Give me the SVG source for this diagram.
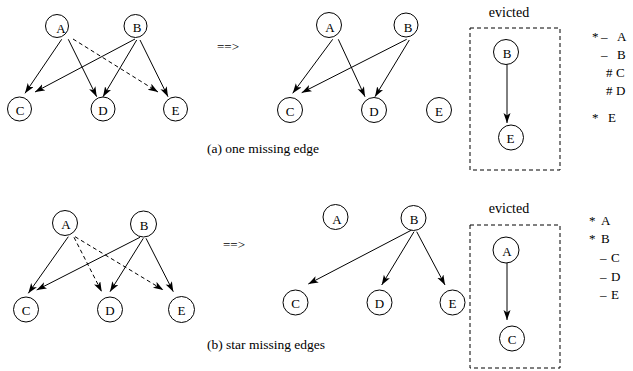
<svg xmlns="http://www.w3.org/2000/svg" width="633" height="371" viewBox="0 0 633 371">
<style>
text{font-size:13px;fill:#000}
.n circle{fill:#fff;stroke:#000;stroke-width:1}
.n text{text-anchor:middle}
.e line{stroke:#000;stroke-width:1;marker-end:url(#ah)}
.e line.d{stroke-dasharray:4,3}
.box{fill:none;stroke:#000;stroke-width:1;stroke-dasharray:4,3}
.cap{font-size:13.5px}
.ev{font-size:14px;text-anchor:middle}
</style>
<defs>
<marker id="ah" markerUnits="userSpaceOnUse" markerWidth="11" markerHeight="8" refX="10" refY="3.5" orient="auto">
<path d="M0,0 L10,3.5 L0,7 L2.5,3.5 Z" fill="#000"/>
</marker>
</defs>

<g id="connectors" class="e">
<line x1="61.7" y1="39.3" x2="25" y2="93.3"/>
<line x1="68.3" y1="39.3" x2="96.7" y2="96.7"/>
<line class="d" x1="73" y1="39" x2="158" y2="92"/>
<line x1="135" y1="39" x2="35" y2="92"/>
<line x1="136.7" y1="40" x2="103" y2="96.7"/>
<line x1="140" y1="40" x2="168" y2="96.7"/>
<line x1="332.7" y1="39.3" x2="292.7" y2="93.3"/>
<line x1="338.3" y1="39.3" x2="365" y2="96.7"/>
<line x1="406.7" y1="39.3" x2="301.7" y2="92.7"/>
<line x1="409.3" y1="40" x2="375" y2="96.7"/>
<line x1="507" y1="64" x2="507" y2="123"/>
<line x1="68.3" y1="236.7" x2="28.3" y2="293.3"/>
<line class="d" x1="74" y1="237.3" x2="101.7" y2="291.7"/>
<line class="d" x1="75" y1="236.7" x2="163.3" y2="290"/>
<line x1="140" y1="237.3" x2="36.7" y2="290"/>
<line x1="143.3" y1="238.3" x2="110" y2="291.7"/>
<line x1="146" y1="238.3" x2="173.3" y2="291.7"/>
<line x1="411.7" y1="230" x2="308.3" y2="284"/>
<line x1="414" y1="231.7" x2="381.7" y2="285"/>
<line x1="416.7" y1="231.7" x2="445" y2="285"/>
<line x1="507" y1="263" x2="507" y2="320"/>
</g>

<g font-family="Liberation Serif, DejaVu Serif, serif">
<g id="tl-A" class="n"><circle cx="57" cy="26" r="11.5"/><text x="61" y="33">A</text></g>
<g id="tl-B" class="n"><circle cx="135.5" cy="26" r="11.5"/><text x="137" y="32">B</text></g>
<g id="tl-C" class="n"><circle cx="19.5" cy="109" r="12"/><text x="20" y="114.5">C</text></g>
<g id="tl-D" class="n"><circle cx="103" cy="109" r="12"/><text x="103" y="114.5">D</text></g>
<g id="tl-E" class="n"><circle cx="175.5" cy="109" r="12"/><text x="175.5" y="114.5">E</text></g>

<text x="217" y="50.5">==&gt;</text>

<g id="tm-A" class="n"><circle cx="329" cy="25" r="12.5"/><text x="330" y="32">A</text></g>
<g id="tm-B" class="n"><circle cx="406" cy="25" r="12"/><text x="408" y="32">B</text></g>
<g id="tm-C" class="n"><circle cx="290" cy="110" r="12.5"/><text x="290" y="115.5">C</text></g>
<g id="tm-D" class="n"><circle cx="374" cy="110" r="12.5"/><text x="374" y="115.5">D</text></g>
<g id="tm-E" class="n"><circle cx="439" cy="110" r="12.5"/><text x="439" y="115.5">E</text></g>

<text class="cap" x="207" y="153">(a) one missing edge</text>

<text class="ev" x="509" y="16.5">evicted</text>
<rect class="box" x="470" y="28" width="90" height="142"/>
<g id="te-B" class="n"><circle cx="506" cy="52" r="12.5"/><text x="507" y="57.5">B</text></g>
<g id="te-E" class="n"><circle cx="511" cy="137.5" r="12.5"/><text x="510.5" y="143">E</text></g>

<text x="592" y="40.7">*</text><text x="601" y="40.7">–</text><text x="617" y="40.7">A</text>
<text x="601" y="59">–</text><text x="617" y="59">B</text>
<text x="606" y="77.3">#</text><text x="616" y="77.3">C</text>
<text x="606" y="95">#</text><text x="616" y="95">D</text>
<text x="592" y="121.7">*</text><text x="608" y="121.7">E</text>

<g id="bl-A" class="n"><circle cx="65" cy="223" r="12.5"/><text x="66" y="229">A</text></g>
<g id="bl-B" class="n"><circle cx="143.5" cy="224" r="13"/><text x="144" y="230">B</text></g>
<g id="bl-C" class="n"><circle cx="26" cy="309.5" r="12.5"/><text x="26" y="315">C</text></g>
<g id="bl-D" class="n"><circle cx="110" cy="309.5" r="12.5"/><text x="110" y="315">D</text></g>
<g id="bl-E" class="n"><circle cx="181.5" cy="309.5" r="13"/><text x="181.5" y="315">E</text></g>

<text x="223" y="248.5">==&gt;</text>

<g id="bm-A" class="n"><circle cx="335.5" cy="217" r="12.5"/><text x="337" y="223.5">A</text></g>
<g id="bm-B" class="n"><circle cx="413.5" cy="218" r="12.5"/><text x="414" y="224">B</text></g>
<g id="bm-C" class="n"><circle cx="295.5" cy="302.5" r="12.5"/><text x="295.5" y="308">C</text></g>
<g id="bm-D" class="n"><circle cx="379.5" cy="302.5" r="12.5"/><text x="379.5" y="308">D</text></g>
<g id="bm-E" class="n"><circle cx="452.5" cy="302.5" r="12.5"/><text x="452.5" y="308">E</text></g>

<text class="cap" x="207" y="349">(b) star missing edges</text>

<text class="ev" x="509" y="213">evicted</text>
<rect class="box" x="470" y="225" width="90" height="143"/>
<g id="be-A" class="n"><circle cx="506" cy="250" r="13"/><text x="507" y="256">A</text></g>
<g id="be-C" class="n"><circle cx="512" cy="338.5" r="12.5"/><text x="512" y="344">C</text></g>

<text x="589" y="225">*</text><text x="601" y="225">A</text>
<text x="589" y="243.3">*</text><text x="601" y="243.3">B</text>
<text x="600" y="261.7">–</text><text x="611" y="261.7">C</text>
<text x="600" y="280.7">–</text><text x="611" y="280.7">D</text>
<text x="600" y="299.3">–</text><text x="611" y="299.3">E</text>
</g>
</svg>
